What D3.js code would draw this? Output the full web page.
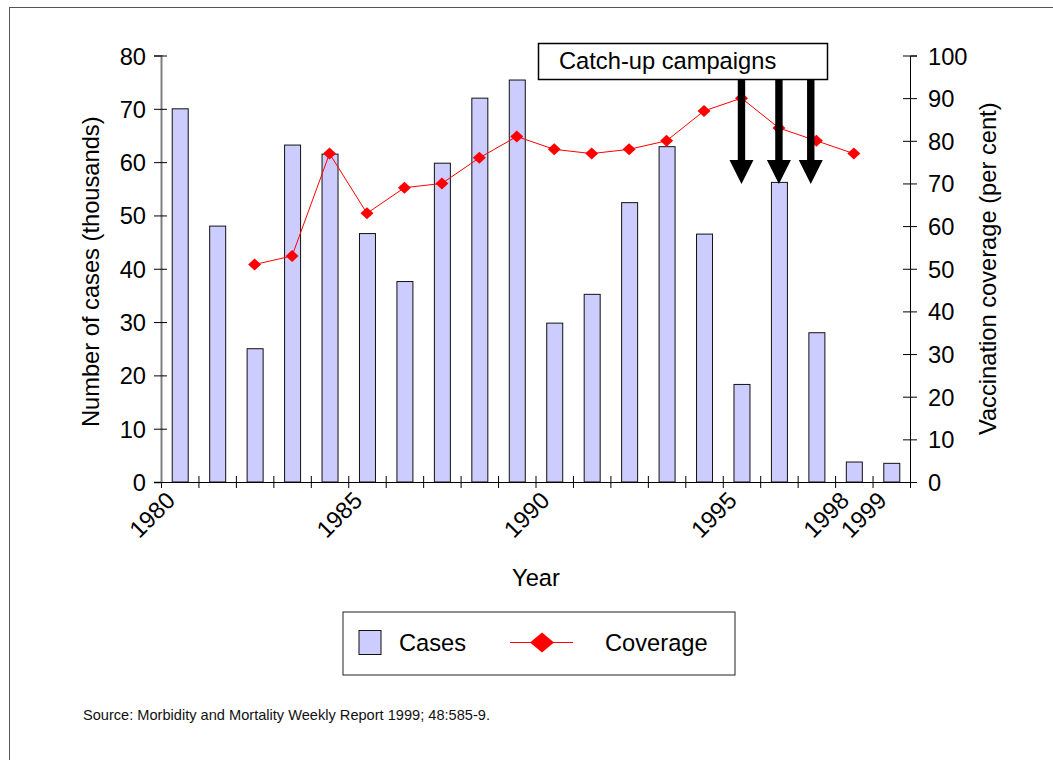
<!DOCTYPE html>
<html>
<head>
<meta charset="utf-8">
<script src="https://cdn.jsdelivr.net/npm/d3@7"></script>
<style>
  html, body { margin: 0; padding: 0; background: #fff; }
  svg { display: block; font-family: "Liberation Sans", Arial, sans-serif; }
</style>
</head>
<body>
<svg id="chart" width="1053" height="760"></svg>
<script>
// Measles cases (thousands) and vaccination coverage (%), 1980-1999
const years = d3.range(1980, 2000);
const cases = [70, 48, 25, 63.2, 61.5, 46.6, 37.6, 59.8, 72, 75.4,
               29.8, 35.2, 52.4, 62.9, 46.5, 18.3, 56.2, 28, 3.75, 3.5];
const coverageYears = d3.range(1982, 1999);
const coverage = [51, 53, 77, 63, 69, 70, 76, 81, 78, 77, 78, 80, 87, 90, 83, 80, 77];
const xLabelYears = [1980, 1985, 1990, 1995, 1998, 1999];
const casesTicks = d3.range(0, 81, 10);
const coverageTicks = d3.range(0, 101, 10);
const campaignDates = [1995.5, 1996.5, 1997.35];

const svg = d3.select("#chart");
const FONT = 23.7;

// outer frame
svg.append("rect")
  .attr("x", 9.5).attr("y", 7.5).attr("width", 1100).attr("height", 800)
  .attr("fill", "none").attr("stroke", "#555").attr("stroke-width", 1);

const plotLeft = 161, plotRight = 910, plotTop = 55.5, plotBottom = 482;

const band = d3.scaleBand().domain(years).range([plotLeft, plotRight]).paddingInner(0).paddingOuter(0);
const xLin = d3.scaleLinear().domain([1980, 2000]).range([plotLeft, plotRight]);
const yCases = d3.scaleLinear().domain([0, 80]).range([plotBottom, plotTop]);
const yCov = d3.scaleLinear().domain([0, 100]).range([plotBottom, plotTop]);

const barW = 16;

// bars
svg.append("g").selectAll("rect").data(years).join("rect")
  .attr("x", d => band(d) + band.bandwidth() / 2 - barW / 2 + 0.5)
  .attr("y", (d, i) => yCases(cases[i]))
  .attr("width", barW)
  .attr("height", (d, i) => plotBottom - yCases(cases[i]))
  .attr("fill", "#ccccff")
  .attr("stroke", "#111")
  .attr("stroke-width", 1);

// x axis
const xAxis = d3.axisBottom(xLin)
  .tickValues(d3.range(1980, 2001))
  .tickSizeOuter(0)
  .tickSize(6)
  .tickFormat(d => xLabelYears.includes(d) ? String(d) : "");
const gx = svg.append("g").attr("transform", `translate(0,${plotBottom})`).call(xAxis);
gx.select(".domain").attr("stroke", "#000");
gx.selectAll(".tick line").attr("y1", -6).attr("y2", 6).attr("stroke", "#000");
gx.selectAll(".tick text")
  .attr("x", 0).attr("y", 0).attr("dy", 0)
  .attr("transform", "translate(15,20) rotate(-45)")
  .attr("text-anchor", "end")
  .attr("fill", "#000")
  .style("font-size", FONT + "px")
  .style("font-family", "'Liberation Sans', Arial, sans-serif");

// left axis
const gyl = svg.append("g").attr("transform", `translate(${plotLeft},0)`)
  .call(d3.axisLeft(yCases).tickValues(casesTicks).tickSizeOuter(0).tickSize(7).tickPadding(8));
gyl.select(".domain").attr("stroke", "#808080").attr("stroke-width", 2);
gyl.selectAll(".tick line").attr("x1", -7).attr("x2", 6).attr("stroke", "#000");
gyl.selectAll(".tick text").attr("fill", "#000").attr("dy", "0.36em")
  .style("font-size", FONT + "px")
  .style("font-family", "'Liberation Sans', Arial, sans-serif");

// right axis
const gyr = svg.append("g").attr("transform", `translate(${plotRight},0)`)
  .call(d3.axisRight(yCov).tickValues(coverageTicks).tickSizeOuter(0).tickSize(7).tickPadding(11));
gyr.select(".domain").attr("stroke", "#000");
gyr.selectAll(".tick line").attr("x1", -7).attr("x2", 7).attr("stroke", "#000");
gyr.selectAll(".tick text").attr("fill", "#000").attr("dy", "0.36em")
  .style("font-size", FONT + "px")
  .style("font-family", "'Liberation Sans', Arial, sans-serif");

// coverage line
const cx = d => band(d) + band.bandwidth() / 2;
const line = d3.line().x(d => cx(d[0])).y(d => yCov(d[1]));
const covPts = coverageYears.map((y, i) => [y, coverage[i]]);
svg.append("path").datum(covPts)
  .attr("d", line).attr("fill", "none").attr("stroke", "#ff0000").attr("stroke-width", 1);

const diamond = (hw, hh) => `M0,${-hh}L${hw},0L0,${hh}L${-hw},0Z`;
svg.append("g").selectAll("path").data(covPts).join("path")
  .attr("transform", d => `translate(${cx(d[0])},${yCov(d[1])})`)
  .attr("d", diamond(6.5, 6))
  .attr("fill", "#ff0000");

// axis titles
svg.append("text")
  .attr("transform", `translate(99,${(plotTop + plotBottom) / 2 + 3}) rotate(-90)`)
  .attr("text-anchor", "middle").style("font-size", FONT + "px")
  .text("Number of cases (thousands)");
svg.append("text")
  .attr("transform", `translate(996,${(plotTop + plotBottom) / 2}) rotate(-90)`)
  .attr("text-anchor", "middle").style("font-size", FONT + "px")
  .text("Vaccination coverage (per cent)");
svg.append("text")
  .attr("x", 536).attr("y", 586)
  .attr("text-anchor", "middle").style("font-size", FONT + "px")
  .text("Year");

// catch-up campaigns annotation
svg.append("rect")
  .attr("x", 538.5).attr("y", 43.5).attr("width", 289).attr("height", 36)
  .attr("fill", "#fff").attr("stroke", "#000").attr("stroke-width", 1.5);
svg.append("text")
  .attr("x", 559).attr("y", 69).style("font-size", FONT + "px")
  .text("Catch-up campaigns");

const arrowTop = 80, headTop = 160, tip = 184, shaftHW = 3.7, headHW = 12;
svg.append("g").selectAll("path").data(campaignDates).join("path")
  .attr("d", d => {
    const x = xLin(d);
    return `M${x - shaftHW},${arrowTop}L${x + shaftHW},${arrowTop}L${x + shaftHW},${headTop}` +
           `L${x + headHW},${headTop}L${x},${tip}L${x - headHW},${headTop}L${x - shaftHW},${headTop}Z`;
  })
  .attr("fill", "#000");

// legend
const lg = svg.append("g");
lg.append("rect")
  .attr("x", 343).attr("y", 612).attr("width", 392).attr("height", 63)
  .attr("fill", "#fff").attr("stroke", "#222").attr("stroke-width", 1);
lg.append("rect")
  .attr("x", 359).attr("y", 630.5).attr("width", 22).attr("height", 24)
  .attr("fill", "#ccccff").attr("stroke", "#111");
lg.append("text").attr("x", 399).attr("y", 651).style("font-size", FONT + "px").text("Cases");
lg.append("line").attr("x1", 510).attr("x2", 573).attr("y1", 642.5).attr("y2", 642.5)
  .attr("stroke", "#ff0000").attr("stroke-width", 1);
lg.append("path").attr("transform", "translate(542,642.5)")
  .attr("d", diamond(12, 10)).attr("fill", "#ff0000");
lg.append("text").attr("x", 605).attr("y", 651).style("font-size", FONT + "px").text("Coverage");

// source note
svg.append("text")
  .attr("x", 83).attr("y", 720).style("font-size", "14.6px").attr("fill", "#111")
  .text("Source: Morbidity and Mortality Weekly Report 1999; 48:585-9.");
</script>
</body>
</html>
